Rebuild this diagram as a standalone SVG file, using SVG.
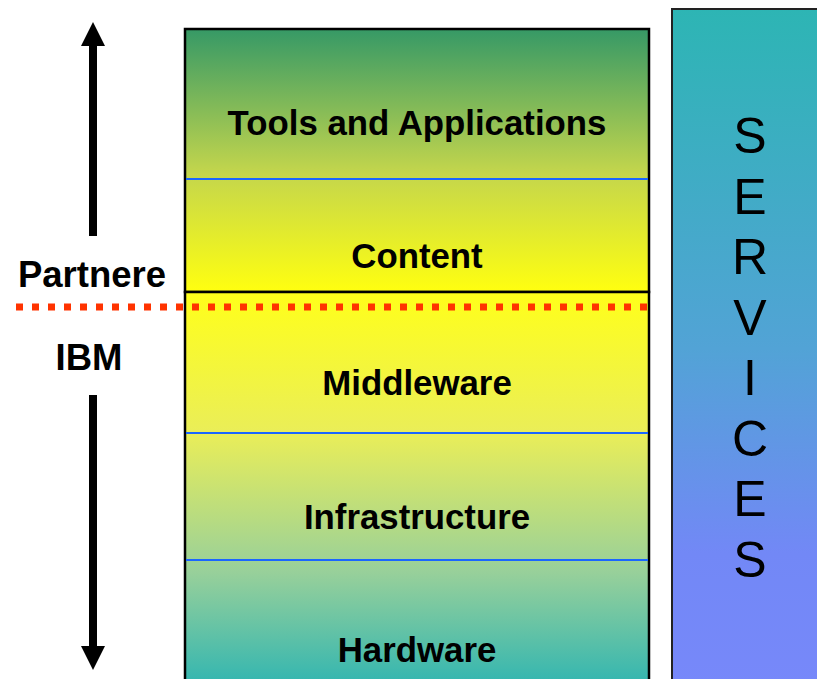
<svg xmlns="http://www.w3.org/2000/svg" width="817" height="679" viewBox="0 0 817 679">
<defs>
<linearGradient id="gTop" x1="0" y1="0" x2="0" y2="1">
<stop offset="0" stop-color="#369966"/>
<stop offset="0.55" stop-color="#c4d64c"/>
<stop offset="1" stop-color="#ffff10"/>
</linearGradient>
<linearGradient id="gBot" x1="0" y1="0" x2="0" y2="1">
<stop offset="0" stop-color="#ffff1a"/>
<stop offset="0.35" stop-color="#eaee58"/>
<stop offset="0.7" stop-color="#98d09a"/>
<stop offset="1" stop-color="#2cb4b2"/>
</linearGradient>
<linearGradient id="gSrv" x1="0" y1="0" x2="0" y2="1">
<stop offset="0" stop-color="#2db5b4"/>
<stop offset="0.5" stop-color="#52a3d6"/>
<stop offset="0.8" stop-color="#7288f6"/>
<stop offset="1" stop-color="#7788fa"/>
</linearGradient>
<style>
.lbl{font-family:"Liberation Sans",Arial,sans-serif;font-weight:bold;font-size:34.8px;fill:#000;text-anchor:middle}
.side{font-size:36.5px}
.srv{font-family:"Liberation Sans",Arial,sans-serif;font-size:50px;fill:#000;text-anchor:middle}
.sep{stroke:#1a66ff;stroke-width:2}
</style>
</defs>
<rect width="817" height="679" fill="#fff"/>
<g id="services">
<rect x="672" y="9" width="150" height="680" fill="url(#gSrv)" stroke="#222" stroke-width="2"/>
<text class="srv" x="750" y="153">S</text>
<text class="srv" x="750" y="214">E</text>
<text class="srv" x="750" y="274">R</text>
<text class="srv" x="750" y="335">V</text>
<text class="srv" x="750" y="395">I</text>
<text class="srv" x="750" y="456">C</text>
<text class="srv" x="750" y="516">E</text>
<text class="srv" x="750" y="577">S</text>
</g>
<g id="partner-layers">
<rect x="185" y="29" width="464" height="263" fill="url(#gTop)" stroke="#000" stroke-width="2.5"/>
<line class="sep" x1="186" y1="179" x2="648" y2="179"/>
<text class="lbl" x="417" y="135">Tools and Applications</text>
<text class="lbl" x="417" y="268">Content</text>
</g>
<g id="ibm-layers">
<rect x="185" y="292" width="464" height="400" fill="url(#gBot)" stroke="#000" stroke-width="2.5"/>
<line class="sep" x1="186" y1="433" x2="648" y2="433"/>
<line class="sep" x1="186" y1="560" x2="648" y2="560"/>
<text class="lbl" x="417" y="395">Middleware</text>
<text class="lbl" x="417" y="529">Infrastructure</text>
<text class="lbl" x="417" y="662">Hardware</text>
</g>
<g id="connectors">
<line x1="16" y1="307" x2="648" y2="307" stroke="#ff3300" stroke-width="7" stroke-dasharray="7 9"/>
<rect x="89" y="44" width="8" height="192" fill="#000"/>
<polygon points="81,46 93,22 105,46" fill="#000"/>
<rect x="89" y="395" width="8" height="252" fill="#000"/>
<polygon points="81,646 93,670 105,646" fill="#000"/>
</g>
<g id="side-labels">
<text class="lbl side" x="92" y="287">Partnere</text>
<text class="lbl side" x="89" y="370">IBM</text>
</g>
</svg>
